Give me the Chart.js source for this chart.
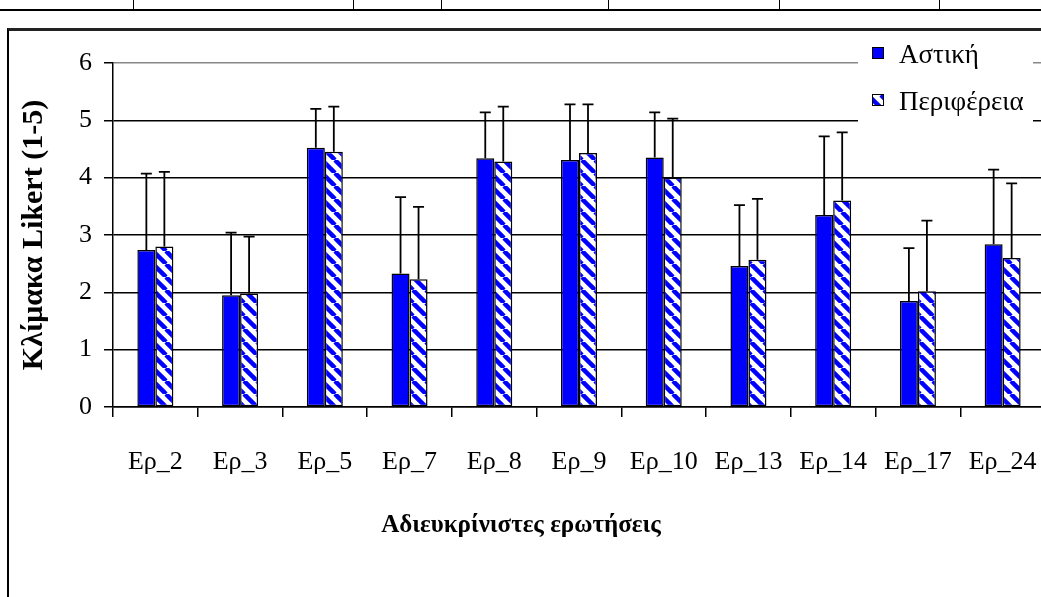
<!DOCTYPE html>
<html>
<head>
<meta charset="utf-8">
<script src="https://cdn.jsdelivr.net/npm/chart.js@4.4.1/dist/chart.umd.min.js"></script>
<style>
  html, body { margin: 0; padding: 0; width: 1041px; height: 597px; overflow: hidden; background: #fff; }
  #page { position: relative; width: 1041px; height: 597px; overflow: hidden; }
  .rule { position: absolute; left: 0; top: 9px; width: 1041px; height: 2px; background: #000; }
  .sep { position: absolute; top: 0; width: 1px; height: 10px; background: #000; }
  #box { position: absolute; left: 7px; top: 28px; width: 1100px; height: 700px;
         border-left: 2px solid #000; border-top: 3px solid #222; }
  #chart { position: absolute; left: -3px; top: 30px; }
</style>
</head>
<body>
<div id="page">
  <div class="rule"></div>
  <div class="sep" style="left:133px"></div>
  <div class="sep" style="left:353px"></div>
  <div class="sep" style="left:441px"></div>
  <div class="sep" style="left:608px"></div>
  <div class="sep" style="left:779px"></div>
  <div class="sep" style="left:939px"></div>
  <div id="box"></div>
  <canvas id="chart" width="1048" height="567"></canvas>
</div>
<script>
const categories = ['Ερ_2', 'Ερ_3', 'Ερ_5', 'Ερ_7', 'Ερ_8', 'Ερ_9', 'Ερ_10', 'Ερ_13', 'Ερ_14', 'Ερ_17', 'Ερ_24'];

// means
const urbanMean  = [2.74, 1.95, 4.52, 2.33, 4.34, 4.31, 4.35, 2.46, 3.35, 1.85, 2.84];
const regionMean = [2.80, 1.98, 4.45, 2.23, 4.28, 4.43, 4.00, 2.57, 3.60, 2.02, 2.60];

// upper error bars (std dev)
const urbanSd  = [1.33, 1.09, 0.68, 1.33, 0.80, 0.97, 0.79, 1.06, 1.37, 0.92, 1.30];
const regionSd = [1.30, 0.99, 0.79, 1.26, 0.96, 0.85, 1.03, 1.06, 1.19, 1.23, 1.30];

const yTicks = [0, 1, 2, 3, 4, 5, 6];

const serif = 'Liberation Serif';

// blue "\" stripes on white
const stripe = (() => {
  const s = 13;
  const c = document.createElement('canvas');
  c.width = s; c.height = s;
  const g = c.getContext('2d');
  g.fillStyle = '#fff';
  g.fillRect(0, 0, s, s);
  g.strokeStyle = '#0000ff';
  g.lineWidth = 4.5;
  for (const k of [-1, 0, 1]) {
    g.beginPath();
    g.moveTo(k * s, 0);
    g.lineTo(k * s + s, s);
    g.stroke();
  }
  return g.createPattern(c, 'repeat');
})();

const errorBars = {
  id: 'errorBars',
  afterDatasetsDraw(chart) {
    const { ctx, scales: { y } } = chart;
    ctx.save();
    ctx.strokeStyle = '#000';
    ctx.lineWidth = 1.8;
    chart.data.datasets.forEach((ds, i) => {
      chart.getDatasetMeta(i).data.forEach((bar, j) => {
        const top = y.getPixelForValue(ds.data[j] + ds.errors[j]);
        ctx.beginPath();
        ctx.moveTo(bar.x, bar.y);
        ctx.lineTo(bar.x, top);
        ctx.moveTo(bar.x - 5.5, top);
        ctx.lineTo(bar.x + 5.5, top);
        ctx.stroke();
      });
    });
    ctx.restore();
  }
};

// legend sits inside the plot, on a white patch over the grid
const boxLegend = {
  id: 'boxLegend',
  afterDatasetsDraw(chart) {
    const ctx = chart.ctx;
    ctx.save();
    ctx.fillStyle = '#fff';
    ctx.fillRect(861, 8, 175, 104);
    ctx.font = '27px "' + serif + '"';
    ctx.textBaseline = 'alphabetic';
    chart.data.datasets.forEach((ds, i) => {
      const y = 17 + i * 47;
      ctx.fillStyle = ds.backgroundColor;
      ctx.fillRect(875, y, 11, 11);
      ctx.strokeStyle = '#000';
      ctx.lineWidth = 1;
      ctx.strokeRect(875.5, y + 0.5, 11, 11);
      ctx.fillStyle = '#000';
      ctx.fillText(ds.label, 902, y + 16);
    });
    ctx.restore();
  }
};

new Chart(document.getElementById('chart'), {
  type: 'bar',
  data: {
    labels: categories,
    datasets: [
      { label: 'Αστική', data: urbanMean, errors: urbanSd,
        backgroundColor: '#0000ff', borderColor: '#000', borderWidth: 1.5 },
      { label: 'Περιφέρεια', data: regionMean, errors: regionSd,
        backgroundColor: stripe, borderColor: '#000', borderWidth: 1.5 }
    ]
  },
  options: {
    responsive: false,
    animation: false,
    layout: { padding: { top: 33, left: 0, right: 0, bottom: 0 } },
    datasets: { bar: { categoryPercentage: 0.425, barPercentage: 1, borderSkipped: false } },
    plugins: {
      legend: { display: false },
      tooltip: { enabled: false },
      title: {
        display: true,
        position: 'bottom',
        text: 'Αδιευκρίνιστες ερωτήσεις',
        color: '#000',
        font: { family: serif, size: 25, weight: 'bold' },
        padding: { top: 0, bottom: 56 }
      }
    },
    scales: {
      x: {
        grid: { offset: true, drawOnChartArea: false, drawTicks: true, tickLength: 10, color: '#000', lineWidth: 1.5 },
        border: { color: '#000', width: 1.5 },
        ticks: { color: '#000', font: { family: serif, size: 26 }, padding: 30, maxRotation: 0, autoSkip: false },
        afterFit(s) {
          s.height = 104;
          s.paddingLeft = 0;
          s.paddingRight = 0;
        }
      },
      y: {
        min: 0,
        max: 6,
        afterBuildTicks(s) { s.ticks = yTicks.map(v => ({ value: v })); },
        ticks: { color: '#000', font: { family: serif, size: 26 }, padding: 12 },
        grid: {
          color: c => (c.tick && c.tick.value === 6 ? '#888' : '#000'),
          tickColor: '#000',
          lineWidth: 1.5,
          tickLength: 9
        },
        border: { color: '#000', width: 1.5 },
        title: {
          display: true,
          text: 'Κλίμακα Likert (1-5)',
          color: '#000',
          font: { family: serif, size: 30, weight: 'bold' },
          padding: { top: 19, bottom: 0 }
        },
        afterFit(s) { s.width = 116; }
      }
    }
  },
  plugins: [errorBars, boxLegend]
});
</script>
</body>
</html>
